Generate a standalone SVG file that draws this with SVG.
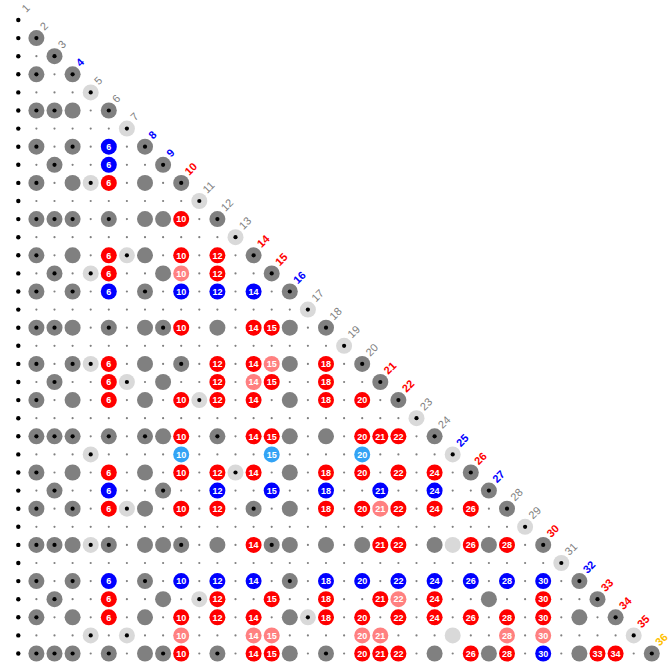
<svg xmlns="http://www.w3.org/2000/svg" width="669" height="668" viewBox="0 0 669 668">
<style>
.s{fill:none;stroke:#808080;stroke-width:2.2;stroke-linecap:round;stroke-dasharray:0 18.1}
.n{font-family:"Liberation Sans",Arial,sans-serif;font-size:9px;font-weight:bold;fill:#fff;text-anchor:middle}
.lb{font-family:"Liberation Sans",Arial,sans-serif;font-size:11px;fill:#808080}
.lbb{fill:#0000ff;font-weight:bold}
.lr{fill:#ff0000;font-weight:bold}
.lo{fill:#ffc000;font-weight:bold}
</style>
<defs>
<circle id="K" r="2.2" fill="#000"/>
<circle id="G" r="8" fill="#808080"/>
<g id="GD"><circle r="8" fill="#808080"/><circle r="2.1" fill="#000"/></g>
<circle id="L" r="8" fill="#d9d9d9"/>
<g id="LD"><circle r="8" fill="#d9d9d9"/><circle r="2.1" fill="#000"/></g>
<circle id="R" r="8" fill="#ff0000"/>
<circle id="B" r="8" fill="#0000ff"/>
<circle id="P" r="8" fill="#ff8080"/>
<circle id="C" r="8" fill="#33a3f5"/>
</defs>
<rect width="669" height="668" fill="#fff"/>
<g id="connectors"/>
<g id="row-1" transform="translate(0 20)"><use href="#K" x="18.3"/><text class="lb" transform="translate(26.3 -7) rotate(-45)">1</text></g>
<g id="row-2" transform="translate(0 38.1)"><use href="#K" x="18.3"/><use href="#GD" x="36.4"/><text class="lb" transform="translate(44.4 -7) rotate(-45)">2</text></g>
<g id="row-3" transform="translate(0 56.2)"><use href="#K" x="18.3"/><path class="s" d="M36.4 0H54.5"/><use href="#GD" x="54.5"/><text class="lb" transform="translate(62.5 -7) rotate(-45)">3</text></g>
<g id="row-4" transform="translate(0 74.3)"><use href="#K" x="18.3"/><path class="s" d="M36.4 0H72.6"/><use href="#GD" x="36.4"/><use href="#GD" x="72.6"/><text class="lb lbb" transform="translate(80.6 -7) rotate(-45)">4</text></g>
<g id="row-5" transform="translate(0 92.4)"><use href="#K" x="18.3"/><path class="s" d="M36.4 0H90.7"/><use href="#LD" x="90.7"/><text class="lb" transform="translate(98.7 -7) rotate(-45)">5</text></g>
<g id="row-6" transform="translate(0 110.5)"><use href="#K" x="18.3"/><path class="s" d="M36.4 0H108.8"/><use href="#GD" x="36.4"/><use href="#GD" x="54.5"/><use href="#G" x="72.6"/><use href="#GD" x="108.8"/><text class="lb" transform="translate(116.8 -7) rotate(-45)">6</text></g>
<g id="row-7" transform="translate(0 128.6)"><use href="#K" x="18.3"/><path class="s" d="M36.4 0H126.9"/><use href="#LD" x="126.9"/><text class="lb" transform="translate(134.9 -7) rotate(-45)">7</text></g>
<g id="row-8" transform="translate(0 146.7)"><use href="#K" x="18.3"/><path class="s" d="M36.4 0H145"/><use href="#GD" x="36.4"/><use href="#GD" x="72.6"/><use href="#B" x="108.8"/><text class="n" x="108.8" y="3.2">6</text><use href="#GD" x="145"/><text class="lb lbb" transform="translate(153 -7) rotate(-45)">8</text></g>
<g id="row-9" transform="translate(0 164.8)"><use href="#K" x="18.3"/><path class="s" d="M36.4 0H163.1"/><use href="#GD" x="54.5"/><use href="#B" x="108.8"/><text class="n" x="108.8" y="3.2">6</text><use href="#GD" x="163.1"/><text class="lb lbb" transform="translate(171.1 -7) rotate(-45)">9</text></g>
<g id="row-10" transform="translate(0 182.9)"><use href="#K" x="18.3"/><path class="s" d="M36.4 0H181.2"/><use href="#GD" x="36.4"/><use href="#G" x="72.6"/><use href="#LD" x="90.7"/><use href="#R" x="108.8"/><text class="n" x="108.8" y="3.2">6</text><use href="#G" x="145"/><use href="#GD" x="181.2"/><text class="lb lr" transform="translate(189.2 -7) rotate(-45)">10</text></g>
<g id="row-11" transform="translate(0 201)"><use href="#K" x="18.3"/><path class="s" d="M36.4 0H199.3"/><use href="#LD" x="199.3"/><text class="lb" transform="translate(207.3 -7) rotate(-45)">11</text></g>
<g id="row-12" transform="translate(0 219.1)"><use href="#K" x="18.3"/><path class="s" d="M36.4 0H217.4"/><use href="#GD" x="36.4"/><use href="#GD" x="54.5"/><use href="#GD" x="72.6"/><use href="#GD" x="108.8"/><use href="#G" x="145"/><use href="#G" x="163.1"/><use href="#R" x="181.2"/><text class="n" x="181.2" y="3.2">10</text><use href="#GD" x="217.4"/><text class="lb" transform="translate(225.4 -7) rotate(-45)">12</text></g>
<g id="row-13" transform="translate(0 237.2)"><use href="#K" x="18.3"/><path class="s" d="M36.4 0H235.5"/><use href="#LD" x="235.5"/><text class="lb" transform="translate(243.5 -7) rotate(-45)">13</text></g>
<g id="row-14" transform="translate(0 255.3)"><use href="#K" x="18.3"/><path class="s" d="M36.4 0H253.6"/><use href="#GD" x="36.4"/><use href="#G" x="72.6"/><use href="#R" x="108.8"/><text class="n" x="108.8" y="3.2">6</text><use href="#LD" x="126.9"/><use href="#G" x="145"/><use href="#R" x="181.2"/><text class="n" x="181.2" y="3.2">10</text><use href="#R" x="217.4"/><text class="n" x="217.4" y="3.2">12</text><use href="#GD" x="253.6"/><text class="lb lr" transform="translate(261.6 -7) rotate(-45)">14</text></g>
<g id="row-15" transform="translate(0 273.4)"><use href="#K" x="18.3"/><path class="s" d="M36.4 0H271.7"/><use href="#GD" x="54.5"/><use href="#LD" x="90.7"/><use href="#R" x="108.8"/><text class="n" x="108.8" y="3.2">6</text><use href="#G" x="163.1"/><use href="#P" x="181.2"/><text class="n" x="181.2" y="3.2">10</text><use href="#R" x="217.4"/><text class="n" x="217.4" y="3.2">12</text><use href="#GD" x="271.7"/><text class="lb lr" transform="translate(279.7 -7) rotate(-45)">15</text></g>
<g id="row-16" transform="translate(0 291.5)"><use href="#K" x="18.3"/><path class="s" d="M36.4 0H289.8"/><use href="#GD" x="36.4"/><use href="#GD" x="72.6"/><use href="#B" x="108.8"/><text class="n" x="108.8" y="3.2">6</text><use href="#GD" x="145"/><use href="#B" x="181.2"/><text class="n" x="181.2" y="3.2">10</text><use href="#B" x="217.4"/><text class="n" x="217.4" y="3.2">12</text><use href="#B" x="253.6"/><text class="n" x="253.6" y="3.2">14</text><use href="#GD" x="289.8"/><text class="lb lbb" transform="translate(297.8 -7) rotate(-45)">16</text></g>
<g id="row-17" transform="translate(0 309.6)"><use href="#K" x="18.3"/><path class="s" d="M36.4 0H307.9"/><use href="#LD" x="307.9"/><text class="lb" transform="translate(315.9 -7) rotate(-45)">17</text></g>
<g id="row-18" transform="translate(0 327.7)"><use href="#K" x="18.3"/><path class="s" d="M36.4 0H326"/><use href="#GD" x="36.4"/><use href="#GD" x="54.5"/><use href="#G" x="72.6"/><use href="#GD" x="108.8"/><use href="#G" x="145"/><use href="#GD" x="163.1"/><use href="#R" x="181.2"/><text class="n" x="181.2" y="3.2">10</text><use href="#G" x="217.4"/><use href="#R" x="253.6"/><text class="n" x="253.6" y="3.2">14</text><use href="#R" x="271.7"/><text class="n" x="271.7" y="3.2">15</text><use href="#G" x="289.8"/><use href="#GD" x="326"/><text class="lb" transform="translate(334 -7) rotate(-45)">18</text></g>
<g id="row-19" transform="translate(0 345.8)"><use href="#K" x="18.3"/><path class="s" d="M36.4 0H344.1"/><use href="#LD" x="344.1"/><text class="lb" transform="translate(352.1 -7) rotate(-45)">19</text></g>
<g id="row-20" transform="translate(0 363.9)"><use href="#K" x="18.3"/><path class="s" d="M36.4 0H362.2"/><use href="#GD" x="36.4"/><use href="#GD" x="72.6"/><use href="#LD" x="90.7"/><use href="#R" x="108.8"/><text class="n" x="108.8" y="3.2">6</text><use href="#G" x="145"/><use href="#GD" x="181.2"/><use href="#R" x="217.4"/><text class="n" x="217.4" y="3.2">12</text><use href="#R" x="253.6"/><text class="n" x="253.6" y="3.2">14</text><use href="#P" x="271.7"/><text class="n" x="271.7" y="3.2">15</text><use href="#G" x="289.8"/><use href="#R" x="326"/><text class="n" x="326" y="3.2">18</text><use href="#GD" x="362.2"/><text class="lb" transform="translate(370.2 -7) rotate(-45)">20</text></g>
<g id="row-21" transform="translate(0 382)"><use href="#K" x="18.3"/><path class="s" d="M36.4 0H380.3"/><use href="#GD" x="54.5"/><use href="#R" x="108.8"/><text class="n" x="108.8" y="3.2">6</text><use href="#LD" x="126.9"/><use href="#G" x="163.1"/><use href="#R" x="217.4"/><text class="n" x="217.4" y="3.2">12</text><use href="#P" x="253.6"/><text class="n" x="253.6" y="3.2">14</text><use href="#R" x="271.7"/><text class="n" x="271.7" y="3.2">15</text><use href="#R" x="326"/><text class="n" x="326" y="3.2">18</text><use href="#GD" x="380.3"/><text class="lb lr" transform="translate(388.3 -7) rotate(-45)">21</text></g>
<g id="row-22" transform="translate(0 400.1)"><use href="#K" x="18.3"/><path class="s" d="M36.4 0H398.4"/><use href="#GD" x="36.4"/><use href="#G" x="72.6"/><use href="#R" x="108.8"/><text class="n" x="108.8" y="3.2">6</text><use href="#G" x="145"/><use href="#R" x="181.2"/><text class="n" x="181.2" y="3.2">10</text><use href="#LD" x="199.3"/><use href="#R" x="217.4"/><text class="n" x="217.4" y="3.2">12</text><use href="#R" x="253.6"/><text class="n" x="253.6" y="3.2">14</text><use href="#G" x="289.8"/><use href="#R" x="326"/><text class="n" x="326" y="3.2">18</text><use href="#R" x="362.2"/><text class="n" x="362.2" y="3.2">20</text><use href="#GD" x="398.4"/><text class="lb lr" transform="translate(406.4 -7) rotate(-45)">22</text></g>
<g id="row-23" transform="translate(0 418.2)"><use href="#K" x="18.3"/><path class="s" d="M36.4 0H416.5"/><use href="#LD" x="416.5"/><text class="lb" transform="translate(424.5 -7) rotate(-45)">23</text></g>
<g id="row-24" transform="translate(0 436.3)"><use href="#K" x="18.3"/><path class="s" d="M36.4 0H434.6"/><use href="#GD" x="36.4"/><use href="#GD" x="54.5"/><use href="#GD" x="72.6"/><use href="#GD" x="108.8"/><use href="#GD" x="145"/><use href="#G" x="163.1"/><use href="#R" x="181.2"/><text class="n" x="181.2" y="3.2">10</text><use href="#GD" x="217.4"/><use href="#R" x="253.6"/><text class="n" x="253.6" y="3.2">14</text><use href="#R" x="271.7"/><text class="n" x="271.7" y="3.2">15</text><use href="#G" x="289.8"/><use href="#G" x="326"/><use href="#R" x="362.2"/><text class="n" x="362.2" y="3.2">20</text><use href="#R" x="380.3"/><text class="n" x="380.3" y="3.2">21</text><use href="#R" x="398.4"/><text class="n" x="398.4" y="3.2">22</text><use href="#GD" x="434.6"/><text class="lb" transform="translate(442.6 -7) rotate(-45)">24</text></g>
<g id="row-25" transform="translate(0 454.4)"><use href="#K" x="18.3"/><path class="s" d="M36.4 0H452.7"/><use href="#LD" x="90.7"/><use href="#C" x="181.2"/><text class="n" x="181.2" y="3.2">10</text><use href="#C" x="271.7"/><text class="n" x="271.7" y="3.2">15</text><use href="#C" x="362.2"/><text class="n" x="362.2" y="3.2">20</text><use href="#LD" x="452.7"/><text class="lb lbb" transform="translate(460.7 -7) rotate(-45)">25</text></g>
<g id="row-26" transform="translate(0 472.5)"><use href="#K" x="18.3"/><path class="s" d="M36.4 0H470.8"/><use href="#GD" x="36.4"/><use href="#G" x="72.6"/><use href="#R" x="108.8"/><text class="n" x="108.8" y="3.2">6</text><use href="#G" x="145"/><use href="#R" x="181.2"/><text class="n" x="181.2" y="3.2">10</text><use href="#R" x="217.4"/><text class="n" x="217.4" y="3.2">12</text><use href="#LD" x="235.5"/><use href="#R" x="253.6"/><text class="n" x="253.6" y="3.2">14</text><use href="#G" x="289.8"/><use href="#R" x="326"/><text class="n" x="326" y="3.2">18</text><use href="#R" x="362.2"/><text class="n" x="362.2" y="3.2">20</text><use href="#R" x="398.4"/><text class="n" x="398.4" y="3.2">22</text><use href="#R" x="434.6"/><text class="n" x="434.6" y="3.2">24</text><use href="#GD" x="470.8"/><text class="lb lr" transform="translate(478.8 -7) rotate(-45)">26</text></g>
<g id="row-27" transform="translate(0 490.6)"><use href="#K" x="18.3"/><path class="s" d="M36.4 0H488.9"/><use href="#GD" x="54.5"/><use href="#B" x="108.8"/><text class="n" x="108.8" y="3.2">6</text><use href="#GD" x="163.1"/><use href="#B" x="217.4"/><text class="n" x="217.4" y="3.2">12</text><use href="#B" x="271.7"/><text class="n" x="271.7" y="3.2">15</text><use href="#B" x="326"/><text class="n" x="326" y="3.2">18</text><use href="#B" x="380.3"/><text class="n" x="380.3" y="3.2">21</text><use href="#B" x="434.6"/><text class="n" x="434.6" y="3.2">24</text><use href="#GD" x="488.9"/><text class="lb lbb" transform="translate(496.9 -7) rotate(-45)">27</text></g>
<g id="row-28" transform="translate(0 508.7)"><use href="#K" x="18.3"/><path class="s" d="M36.4 0H507"/><use href="#GD" x="36.4"/><use href="#GD" x="72.6"/><use href="#R" x="108.8"/><text class="n" x="108.8" y="3.2">6</text><use href="#LD" x="126.9"/><use href="#G" x="145"/><use href="#R" x="181.2"/><text class="n" x="181.2" y="3.2">10</text><use href="#R" x="217.4"/><text class="n" x="217.4" y="3.2">12</text><use href="#GD" x="253.6"/><use href="#G" x="289.8"/><use href="#R" x="326"/><text class="n" x="326" y="3.2">18</text><use href="#R" x="362.2"/><text class="n" x="362.2" y="3.2">20</text><use href="#P" x="380.3"/><text class="n" x="380.3" y="3.2">21</text><use href="#R" x="398.4"/><text class="n" x="398.4" y="3.2">22</text><use href="#R" x="434.6"/><text class="n" x="434.6" y="3.2">24</text><use href="#R" x="470.8"/><text class="n" x="470.8" y="3.2">26</text><use href="#GD" x="507"/><text class="lb" transform="translate(515 -7) rotate(-45)">28</text></g>
<g id="row-29" transform="translate(0 526.8)"><use href="#K" x="18.3"/><path class="s" d="M36.4 0H525.1"/><use href="#LD" x="525.1"/><text class="lb" transform="translate(533.1 -7) rotate(-45)">29</text></g>
<g id="row-30" transform="translate(0 544.9)"><use href="#K" x="18.3"/><path class="s" d="M36.4 0H543.2"/><use href="#GD" x="36.4"/><use href="#GD" x="54.5"/><use href="#G" x="72.6"/><use href="#LD" x="90.7"/><use href="#GD" x="108.8"/><use href="#G" x="145"/><use href="#G" x="163.1"/><use href="#GD" x="181.2"/><use href="#G" x="217.4"/><use href="#R" x="253.6"/><text class="n" x="253.6" y="3.2">14</text><use href="#GD" x="271.7"/><use href="#G" x="289.8"/><use href="#G" x="326"/><use href="#G" x="362.2"/><use href="#R" x="380.3"/><text class="n" x="380.3" y="3.2">21</text><use href="#R" x="398.4"/><text class="n" x="398.4" y="3.2">22</text><use href="#G" x="434.6"/><use href="#L" x="452.7"/><use href="#R" x="470.8"/><text class="n" x="470.8" y="3.2">26</text><use href="#G" x="488.9"/><use href="#R" x="507"/><text class="n" x="507" y="3.2">28</text><use href="#GD" x="543.2"/><text class="lb lr" transform="translate(551.2 -7) rotate(-45)">30</text></g>
<g id="row-31" transform="translate(0 563)"><use href="#K" x="18.3"/><path class="s" d="M36.4 0H561.3"/><use href="#LD" x="561.3"/><text class="lb" transform="translate(569.3 -7) rotate(-45)">31</text></g>
<g id="row-32" transform="translate(0 581.1)"><use href="#K" x="18.3"/><path class="s" d="M36.4 0H579.4"/><use href="#GD" x="36.4"/><use href="#GD" x="72.6"/><use href="#B" x="108.8"/><text class="n" x="108.8" y="3.2">6</text><use href="#GD" x="145"/><use href="#B" x="181.2"/><text class="n" x="181.2" y="3.2">10</text><use href="#B" x="217.4"/><text class="n" x="217.4" y="3.2">12</text><use href="#B" x="253.6"/><text class="n" x="253.6" y="3.2">14</text><use href="#GD" x="289.8"/><use href="#B" x="326"/><text class="n" x="326" y="3.2">18</text><use href="#B" x="362.2"/><text class="n" x="362.2" y="3.2">20</text><use href="#B" x="398.4"/><text class="n" x="398.4" y="3.2">22</text><use href="#B" x="434.6"/><text class="n" x="434.6" y="3.2">24</text><use href="#B" x="470.8"/><text class="n" x="470.8" y="3.2">26</text><use href="#B" x="507"/><text class="n" x="507" y="3.2">28</text><use href="#B" x="543.2"/><text class="n" x="543.2" y="3.2">30</text><use href="#GD" x="579.4"/><text class="lb lbb" transform="translate(587.4 -7) rotate(-45)">32</text></g>
<g id="row-33" transform="translate(0 599.2)"><use href="#K" x="18.3"/><path class="s" d="M36.4 0H597.5"/><use href="#GD" x="54.5"/><use href="#R" x="108.8"/><text class="n" x="108.8" y="3.2">6</text><use href="#G" x="163.1"/><use href="#LD" x="199.3"/><use href="#R" x="217.4"/><text class="n" x="217.4" y="3.2">12</text><use href="#R" x="271.7"/><text class="n" x="271.7" y="3.2">15</text><use href="#R" x="326"/><text class="n" x="326" y="3.2">18</text><use href="#R" x="380.3"/><text class="n" x="380.3" y="3.2">21</text><use href="#P" x="398.4"/><text class="n" x="398.4" y="3.2">22</text><use href="#R" x="434.6"/><text class="n" x="434.6" y="3.2">24</text><use href="#G" x="488.9"/><use href="#R" x="543.2"/><text class="n" x="543.2" y="3.2">30</text><use href="#GD" x="597.5"/><text class="lb lr" transform="translate(605.5 -7) rotate(-45)">33</text></g>
<g id="row-34" transform="translate(0 617.3)"><use href="#K" x="18.3"/><path class="s" d="M36.4 0H615.6"/><use href="#GD" x="36.4"/><use href="#G" x="72.6"/><use href="#R" x="108.8"/><text class="n" x="108.8" y="3.2">6</text><use href="#G" x="145"/><use href="#R" x="181.2"/><text class="n" x="181.2" y="3.2">10</text><use href="#R" x="217.4"/><text class="n" x="217.4" y="3.2">12</text><use href="#R" x="253.6"/><text class="n" x="253.6" y="3.2">14</text><use href="#G" x="289.8"/><use href="#LD" x="307.9"/><use href="#R" x="326"/><text class="n" x="326" y="3.2">18</text><use href="#R" x="362.2"/><text class="n" x="362.2" y="3.2">20</text><use href="#R" x="398.4"/><text class="n" x="398.4" y="3.2">22</text><use href="#R" x="434.6"/><text class="n" x="434.6" y="3.2">24</text><use href="#R" x="470.8"/><text class="n" x="470.8" y="3.2">26</text><use href="#R" x="507"/><text class="n" x="507" y="3.2">28</text><use href="#R" x="543.2"/><text class="n" x="543.2" y="3.2">30</text><use href="#G" x="579.4"/><use href="#GD" x="615.6"/><text class="lb lr" transform="translate(623.6 -7) rotate(-45)">34</text></g>
<g id="row-35" transform="translate(0 635.4)"><use href="#K" x="18.3"/><path class="s" d="M36.4 0H633.7"/><use href="#LD" x="90.7"/><use href="#LD" x="126.9"/><use href="#P" x="181.2"/><text class="n" x="181.2" y="3.2">10</text><use href="#P" x="253.6"/><text class="n" x="253.6" y="3.2">14</text><use href="#P" x="271.7"/><text class="n" x="271.7" y="3.2">15</text><use href="#P" x="362.2"/><text class="n" x="362.2" y="3.2">20</text><use href="#P" x="380.3"/><text class="n" x="380.3" y="3.2">21</text><use href="#L" x="452.7"/><use href="#P" x="507"/><text class="n" x="507" y="3.2">28</text><use href="#P" x="543.2"/><text class="n" x="543.2" y="3.2">30</text><use href="#LD" x="633.7"/><text class="lb lr" transform="translate(641.7 -7) rotate(-45)">35</text></g>
<g id="row-36" transform="translate(0 653.5)"><use href="#K" x="18.3"/><path class="s" d="M36.4 0H651.8"/><use href="#GD" x="36.4"/><use href="#GD" x="54.5"/><use href="#GD" x="72.6"/><use href="#GD" x="108.8"/><use href="#G" x="145"/><use href="#GD" x="163.1"/><use href="#R" x="181.2"/><text class="n" x="181.2" y="3.2">10</text><use href="#GD" x="217.4"/><use href="#R" x="253.6"/><text class="n" x="253.6" y="3.2">14</text><use href="#R" x="271.7"/><text class="n" x="271.7" y="3.2">15</text><use href="#G" x="289.8"/><use href="#GD" x="326"/><use href="#R" x="362.2"/><text class="n" x="362.2" y="3.2">20</text><use href="#R" x="380.3"/><text class="n" x="380.3" y="3.2">21</text><use href="#R" x="398.4"/><text class="n" x="398.4" y="3.2">22</text><use href="#G" x="434.6"/><use href="#R" x="470.8"/><text class="n" x="470.8" y="3.2">26</text><use href="#G" x="488.9"/><use href="#R" x="507"/><text class="n" x="507" y="3.2">28</text><use href="#B" x="543.2"/><text class="n" x="543.2" y="3.2">30</text><use href="#G" x="579.4"/><use href="#R" x="597.5"/><text class="n" x="597.5" y="3.2">33</text><use href="#R" x="615.6"/><text class="n" x="615.6" y="3.2">34</text><use href="#GD" x="651.8"/><text class="lb lo" transform="translate(659.8 -7) rotate(-45)">36</text></g>
</svg>
